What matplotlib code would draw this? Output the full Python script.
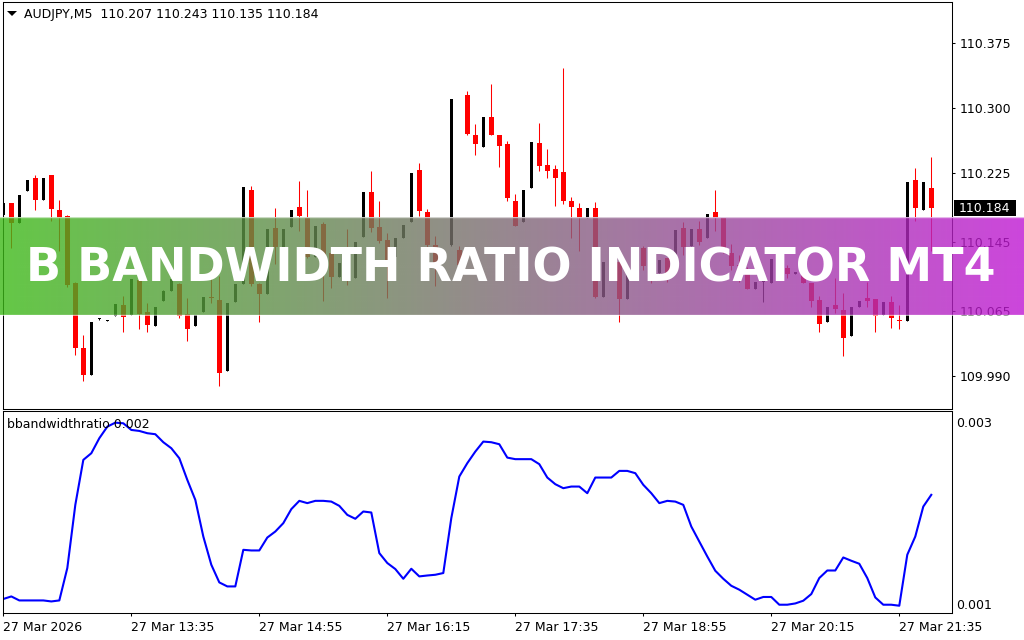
import numpy as np
import matplotlib.pyplot as plt
from matplotlib import transforms
from matplotlib.patches import Rectangle, Polygon
from matplotlib.ticker import FormatStrFormatter

#Part 1 Data (AUDJPY M5, one value per bar)
openPrice = [
    110.176, 110.190, 110.167, 110.204, 110.219, 110.194, 110.222, 110.182, 110.175, 110.098,  # 0
    110.023, 109.992, 110.056, 110.054, 110.060, 110.072, 110.061, 110.101, 110.064, 110.048,  # 10
    110.077, 110.089, 110.097, 110.062, 110.048, 110.064, 110.082, 110.078, 109.996, 110.076,  # 20
    110.097, 110.205, 110.097, 110.085, 110.161, 110.132, 110.162, 110.186, 110.173, 110.128,  # 30
    110.166, 110.132, 110.105, 110.126, 110.104, 110.151, 110.203, 110.162, 110.147, 110.128,  # 40
    110.150, 110.168, 110.228, 110.180, 110.142, 110.122, 110.142, 110.136, 110.315, 110.269,  # 50
    110.255, 110.289, 110.269, 110.258, 110.192, 110.168, 110.207, 110.259, 110.234, 110.229,  # 60
    110.226, 110.192, 110.184, 110.173, 110.184, 110.082, 110.122, 110.122, 110.079, 110.116,  # 70
    110.138, 110.116, 110.109, 110.127, 110.122, 110.161, 110.141, 110.160, 110.150, 110.180,  # 80
    110.173, 110.132, 110.118, 110.109, 110.091, 110.099, 110.098, 110.123, 110.115, 110.108,  # 90
    110.112, 110.098, 110.078, 110.053, 110.072, 110.067, 110.037, 110.070, 110.080, 110.079,  # 100
    110.061, 110.076, 110.055, 110.054, 110.217, 110.182, 110.207]                             # 110
highPrice = [
    110.191, 110.190, 110.199, 110.217, 110.222, 110.219, 110.222, 110.194, 110.176, 110.099,
    110.038, 110.053, 110.057, 110.055, 110.074, 110.083, 110.102, 110.104, 110.075, 110.070,
    110.090, 110.102, 110.098, 110.080, 110.061, 110.082, 110.114, 110.106, 110.075, 110.097,
    110.209, 110.210, 110.098, 110.160, 110.184, 110.160, 110.182, 110.216, 110.205, 110.164,
    110.168, 110.138, 110.121, 110.160, 110.145, 110.203, 110.227, 110.192, 110.156, 110.150,
    110.165, 110.225, 110.236, 110.183, 110.152, 110.130, 110.310, 110.141, 110.319, 110.281,
    110.289, 110.327, 110.269, 110.262, 110.201, 110.205, 110.260, 110.282, 110.252, 110.234,
    110.346, 110.197, 110.190, 110.184, 110.191, 110.122, 110.127, 110.122, 110.114, 110.135,
    110.141, 110.116, 110.124, 110.127, 110.159, 110.168, 110.160, 110.169, 110.177, 110.205,
    110.173, 110.143, 110.130, 110.116, 110.099, 110.113, 110.126, 110.130, 110.119, 110.111,
    110.116, 110.098, 110.083, 110.070, 110.104, 110.086, 110.070, 110.077, 110.099, 110.079,
    110.076, 110.083, 110.072, 110.214, 110.230, 110.214, 110.243]
lowPrice = [
    110.175, 110.138, 110.167, 110.204, 110.182, 110.194, 110.169, 110.135, 110.093, 110.015,
    109.985, 109.992, 110.055, 110.054, 110.060, 110.041, 110.061, 110.045, 110.041, 110.048,
    110.077, 110.089, 110.057, 110.031, 110.048, 110.064, 110.075, 109.979, 109.996, 110.076,
    110.097, 110.094, 110.053, 110.085, 110.120, 110.132, 110.162, 110.158, 110.127, 110.128,
    110.077, 110.092, 110.105, 110.096, 110.104, 110.151, 110.157, 110.144, 110.080, 110.128,
    110.150, 110.168, 110.175, 110.139, 110.094, 110.122, 110.141, 110.113, 110.269, 110.246,
    110.255, 110.269, 110.232, 110.192, 110.164, 110.168, 110.207, 110.227, 110.219, 110.187,
    110.189, 110.150, 110.135, 110.173, 110.080, 110.082, 110.107, 110.053, 110.079, 110.116,
    110.113, 110.098, 110.109, 110.099, 110.122, 110.130, 110.141, 110.142, 110.150, 110.158,
    110.132, 110.113, 110.099, 110.091, 110.091, 110.076, 110.098, 110.111, 110.104, 110.108,
    110.098, 110.070, 110.041, 110.053, 110.063, 110.014, 110.037, 110.070, 110.070, 110.041,
    110.061, 110.046, 110.045, 110.054, 110.169, 110.182, 110.135]
closePrice = [
    110.190, 110.167, 110.199, 110.217, 110.194, 110.219, 110.183, 110.173, 110.096, 110.023,
    109.992, 110.053, 110.057, 110.055, 110.074, 110.059, 110.102, 110.062, 110.049, 110.070,
    110.089, 110.102, 110.060, 110.045, 110.061, 110.082, 110.081, 109.994, 110.075, 110.097,
    110.209, 110.097, 110.085, 110.160, 110.139, 110.160, 110.182, 110.175, 110.128, 110.164,
    110.111, 110.105, 110.121, 110.101, 110.145, 110.203, 110.161, 110.146, 110.123, 110.150,
    110.165, 110.225, 110.181, 110.142, 110.121, 110.129, 110.310, 110.119, 110.270, 110.258,
    110.289, 110.269, 110.256, 110.196, 110.164, 110.205, 110.260, 110.233, 110.227, 110.219,
    110.192, 110.186, 110.173, 110.184, 110.082, 110.122, 110.113, 110.079, 110.114, 110.135,
    110.117, 110.109, 110.124, 110.109, 110.159, 110.139, 110.160, 110.145, 110.177, 110.173,
    110.136, 110.117, 110.117, 110.091, 110.099, 110.099, 110.126, 110.117, 110.108, 110.111,
    110.098, 110.077, 110.051, 110.070, 110.068, 110.034, 110.070, 110.077, 110.077, 110.060,
    110.076, 110.057, 110.054, 110.214, 110.184, 110.214, 110.184]

ratioValues = [
    0.001052, 0.001080, 0.001036, 0.001036, 0.001036, 0.001036, 0.001025, 0.001036, 0.001392, 0.002086,
    0.002580, 0.002653, 0.002818, 0.002945, 0.002989, 0.002982, 0.002909, 0.002898, 0.002873, 0.002862,
    0.002774, 0.002708, 0.002598, 0.002360, 0.002141, 0.001738, 0.001428, 0.001234, 0.001190, 0.001190,
    0.001592, 0.001585, 0.001585, 0.001727, 0.001793, 0.001885, 0.002039, 0.002130, 0.002105, 0.002130,
    0.002130, 0.002122, 0.002075, 0.001976, 0.001933, 0.002013, 0.002002, 0.001556, 0.001447, 0.001381,
    0.001274, 0.001384, 0.001300, 0.001310, 0.001318, 0.001337, 0.001940, 0.002397, 0.002544, 0.002671,
    0.002781, 0.002774, 0.002752, 0.002605, 0.002588, 0.002588, 0.002588, 0.002533, 0.002386, 0.002313,
    0.002269, 0.002287, 0.002287, 0.002214, 0.002386, 0.002386, 0.002386, 0.002459, 0.002459, 0.002434,
    0.002306, 0.002214, 0.002105, 0.002130, 0.002122, 0.002086, 0.001848, 0.001683, 0.001519, 0.001362,
    0.001274, 0.001197, 0.001154, 0.001099, 0.001044, 0.001074, 0.001074, 0.000989, 0.000989, 0.001003,
    0.001033, 0.001106, 0.001282, 0.001365, 0.001365, 0.001508, 0.001472, 0.001439, 0.001282, 0.001069,
    0.000989, 0.000989, 0.000978, 0.001538, 0.001738, 0.002067, 0.002196]

priceTicks = [110.375, 110.300, 110.225, 110.145, 110.065, 109.990]
ratioTicks = [0.003, 0.001]
timeTickBars = [0, 16, 32, 48, 64, 80, 96, 112]
timeTickLabels = ["27 Mar 2026", "27 Mar 13:35", "27 Mar 14:55", "27 Mar 16:15",
                  "27 Mar 17:35", "27 Mar 18:55", "27 Mar 20:15", "27 Mar 21:35"]
symbolTitle = "AUDJPY,M5  110.207 110.243 110.135 110.184"
indicatorTitle = "bbandwidthratio 0.002"
bannerText = "B BANDWIDTH RATIO INDICATOR MT4"
lastPrice = 110.184


#Part 2 Figure with two panels (boxes given in pixels of the 1024x640 picture)
W, H = 1024, 640
fig = plt.figure(figsize=(W / 100, H / 100), dpi=100)
fig.patch.set_facecolor("white")


def pixelBox(left, top, right, bottom):
    return [left / W, 1 - bottom / H, (right - left) / W, (bottom - top) / H]


priceAx = fig.add_axes(pixelBox(3, 2, 952, 409))
ratioAx = fig.add_axes(pixelBox(3, 411, 952, 613))


#Part 3 Candles
bars = np.arange(len(openPrice))
opens = np.array(openPrice)
highs = np.array(highPrice)
lows = np.array(lowPrice)
closes = np.array(closePrice)
isUp = closes >= opens
candleColor = np.where(isUp, "black", "red")

priceAx.vlines(bars, lows, highs, colors=candleColor, linewidth=0.75)
bodyBottom = np.minimum(opens, closes)
bodyHeight = np.maximum(np.abs(closes - opens), 0.0012)
bodyWidth = np.where(isUp, 0.375, 0.6)
priceAx.bar(bars, bodyHeight, width=bodyWidth, bottom=bodyBottom,
            color=candleColor, linewidth=0)

#Indicator line
ratioAx.plot(bars, ratioValues, color="#0000ff", linewidth=1.5)


#Part 4 Axes look (MT4 style)
for ax in (priceAx, ratioAx):
    ax.set_xlim(-0.04, 118.59)
    for spine in ax.spines.values():
        spine.set_linewidth(0.75)
        spine.set_color("black")
    ax.yaxis.tick_right()

priceAx.set_ylim(109.9524, 110.4220)
priceAx.set_yticks(priceTicks)
priceAx.yaxis.set_major_formatter(FormatStrFormatter("%.3f"))
priceAx.tick_params(axis="y", direction="out", length=2.5, width=0.75, pad=3, labelsize=9)
priceAx.set_xticks([])

ratioAx.set_ylim(0.000898, 0.003117)
ratioAx.set_yticks(ratioTicks)
ratioAx.yaxis.set_major_formatter(FormatStrFormatter("%.3f"))
ratioAx.tick_params(axis="y", length=0, pad=3, labelsize=9)
ratioAx.set_xticks(timeTickBars)
ratioAx.set_xticklabels(timeTickLabels, ha="left")
ratioAx.tick_params(axis="x", direction="out", length=2.5, width=0.75, pad=3, labelsize=9)

#Titles inside the panels
fig.text(24 / W, 1 - 18.3 / H, symbolTitle, fontsize=9, va="baseline")
fig.add_artist(Polygon([[7 / W, 1 - 11 / H], [17 / W, 1 - 11 / H], [12 / W, 1 - 16 / H]],
                       closed=True, transform=fig.transFigure, facecolor="black",
                       edgecolor="none"))
fig.text(7 / W, 1 - 428.3 / H, indicatorTitle, fontsize=9, va="baseline")

#Last price box on the price scale
boxTrans = transforms.blended_transform_factory(fig.transFigure, priceAx.transData)
priceAx.add_patch(Rectangle((954 / W, lastPrice - 0.0092), 62 / W, 0.0185, transform=boxTrans,
                            facecolor="black", edgecolor="none", clip_on=False))
priceAx.text(958.5 / W, lastPrice, "%.3f" % lastPrice, transform=boxTrans, color="white",
             fontsize=9, va="center", clip_on=False)


#Part 5 Banner across the chart
bannerAx = fig.add_axes(pixelBox(0, 217, 1024, 315.5))
bannerAx.set_axis_off()
bannerAx.set_xlim(0, 1)
bannerAx.set_ylim(0, 1)
leftColor = np.array([61, 186, 24]) / 255
rightColor = np.array([192, 24, 211]) / 255
t = np.linspace(0, 1, 512)[:, None]
gradient = (1 - t) * leftColor + t * rightColor
rgba = np.concatenate([gradient, np.full((512, 1), 0.8)], axis=1)[None, :, :]
bannerAx.imshow(rgba, aspect="auto", extent=[0, 1, 0, 1], interpolation="bilinear")
bannerAx.axhline(0.995, color="white", alpha=0.6, linewidth=1)
bannerAx.axhline(0.005, color="white", alpha=0.6, linewidth=1)

bannerLabel = bannerAx.text(511 / W, (315.5 - 281) / 98.5, bannerText, color="white",
                            fontsize=34, fontweight="bold", ha="center", va="baseline")
fig.canvas.draw()
textWidth = bannerLabel.get_window_extent().width
bannerLabel.set_fontsize(34 * 972 / textWidth)

fig.savefig("out.png", dpi=100)
